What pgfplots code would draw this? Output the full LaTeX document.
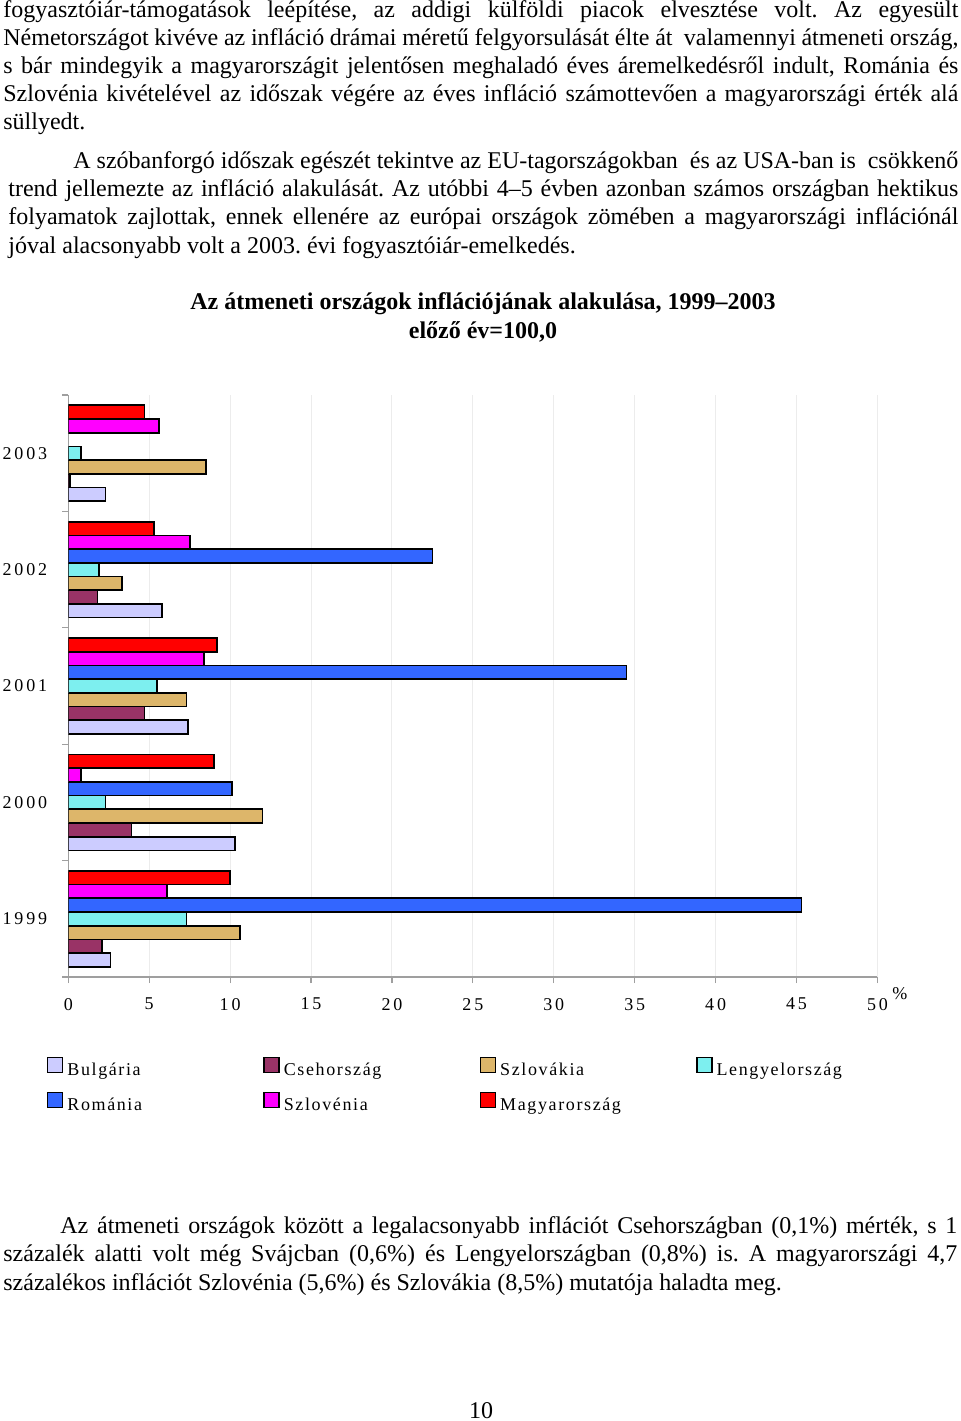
\documentclass[border=0pt]{standalone}
\usepackage{pgfplots}
\pgfplotsset{compat=1.18}
\usepackage{fontspec}
\setmainfont{Liberation Serif}
\newfontfamily\chartfont[LetterSpace=16]{Liberation Serif}
\newfontfamily\legendfont[LetterSpace=9]{Liberation Serif}

\definecolor{bulg}{HTML}{CCCCFF}
\definecolor{cseh}{HTML}{993366}
\definecolor{szlovak}{HTML}{DDB66A}
\definecolor{lengyel}{HTML}{7DEFEF}
\definecolor{roman}{HTML}{3366FF}
\definecolor{szloven}{HTML}{FF00FF}
\definecolor{magyar}{HTML}{FF0000}

\newcommand\bodyfont{\fontsize{12pt}{14.25pt}\selectfont\frenchspacing}
\newcommand\chartsize{\chartfont\fontsize{9pt}{11pt}\selectfont}
\newcommand\legendsize{\legendfont\fontsize{9pt}{11pt}\selectfont}

\pgfplotsset{
  mybar/.style={draw=black, line width=0.85pt, fill=#1,
    legend image code/.code={\draw[##1,/tikz/.cd,line width=0.7pt] (0pt,-0.5pt) rectangle (7.5pt,7pt);}},
}

\begin{document}
\begin{tikzpicture}
\path[use as bounding box] (0,0) rectangle (480pt,-710.5pt);

% page text, 1 px = 0.5pt, y downwards
\begin{scope}[x=0.5pt,y=-0.5pt,every node/.style={inner sep=0pt,anchor=base west,font=\bodyfont}]
\node at (3,17) {\makebox[477.5pt][s]{fogyasztóiár-támogatások leépítése, az addigi külföldi piacok elvesztése volt. Az egyesült}};
\node at (3,45) {\makebox[477.5pt][s]{Németországot kivéve az infláció drámai méretű felgyorsulását élte át\ \ valamennyi átmeneti ország,}};
\node at (3,73) {\makebox[477.5pt][s]{s bár mindegyik a magyarországit jelentősen meghaladó éves áremelkedésről indult, Románia és}};
\node at (3,101) {\makebox[477.5pt][s]{Szlovénia kivételével az időszak végére az éves infláció számottevően a magyarországi érték alá}};
\node at (3,129) {süllyedt.};

\node at (73,168) {\makebox[442.5pt][s]{A szóbanforgó időszak egészét tekintve az EU-tagországokban\ \ és az USA-ban is\ \ csökkenő}};
\node at (8,196) {\makebox[475pt][s]{trend jellemezte az infláció alakulását. Az utóbbi 4–5 évben azonban számos országban hektikus}};
\node at (8,224) {\makebox[475pt][s]{folyamatok zajlottak, ennek ellenére az európai országok zömében a magyarországi inflációnál}};
\node at (8,253) {jóval alacsonyabb volt a 2003. évi fogyasztóiár-emelkedés.};

\node[anchor=base] at (483,309) {\bfseries Az átmeneti országok inflációjának alakulása, 1999–2003};
\node[anchor=base] at (483,338) {\bfseries előző év=100,0};

\node[font=\chartsize] at (892,999) {\%};

\node at (60,1233) {\makebox[448.5pt][s]{Az átmeneti országok között a legalacsonyabb inflációt Csehországban (0,1\%) mérték, s 1}};
\node at (3,1261) {\makebox[477pt][s]{százalék alatti volt még Svájcban (0,6\%) és Lengyelországban (0,8\%) is. A magyarországi 4,7}};
\node at (3,1290) {százalékos inflációt Szlovénia (5,6\%) és Szlovákia (8,5\%) mutatója haladta meg.};

\node[anchor=base] at (481,1418) {10};
\end{scope}

\begin{axis}[
  at={(34.15pt,-488.5pt)}, anchor=south west,
  scale only axis, width=404.6pt, height=291pt,
  xbar, bar width=0.1177,
  xmin=0, xmax=50, ymin=-0.5, ymax=4.5,
  axis x line*=bottom, axis y line*=left,
  axis line style={draw=gray!75, line width=0.6pt},
  tick style={draw=gray!75, line width=0.6pt},
  tick align=outside, major tick length=3pt,
  xtick={0,5,...,50},
  xmajorgrids, major grid style={draw=gray!15, line width=0.5pt},
  ytick={-0.5,0.5,...,4.5}, yticklabels={},
  extra y ticks={0,1,2,3,4},
  extra y tick labels={1999,2000,2001,2002,2003},
  extra y tick style={major tick length=0pt, yticklabel style={xshift=-7pt}},
  ticklabel style={font=\chartsize},
  /pgf/number format/assume math mode=true,
  xticklabel style={yshift=-4pt},
  legend columns=4,
  legend cell align=left,
  legend style={draw=none, fill=none, at={(-0.0263,-0.1374)}, anchor=north west,
    inner sep=0pt, outer sep=0pt, font=\legendsize, row sep=5.5pt,
    nodes={inner sep=0pt, text width=98pt, align=left, text height=6.5pt, text depth=2.5pt},
    /tikz/every odd column/.append style={column sep=2pt}},
]
\addplot[mybar=bulg, bar shift=-0.3531] coordinates {(2.6,0) (10.3,1) (7.4,2) (5.8,3) (2.3,4)};
\addlegendentry{Bulgária}
\addplot[mybar=cseh, bar shift=-0.2354] coordinates {(2.1,0) (3.9,1) (4.7,2) (1.8,3) (0.1,4)};
\addlegendentry{Csehország}
\addplot[mybar=szlovak, bar shift=-0.1177] coordinates {(10.6,0) (12.0,1) (7.3,2) (3.3,3) (8.5,4)};
\addlegendentry{Szlovákia}
\addplot[mybar=lengyel, bar shift=0] coordinates {(7.3,0) (2.3,1) (5.5,2) (1.9,3) (0.8,4)};
\addlegendentry{Lengyelország}
\addplot[mybar=roman, bar shift=0.1177] coordinates {(45.3,0) (10.1,1) (34.5,2) (22.5,3)};
\addlegendentry{Románia}
\addplot[mybar=szloven, bar shift=0.2354] coordinates {(6.1,0) (0.8,1) (8.4,2) (7.5,3) (5.6,4)};
\addlegendentry{Szlovénia}
\addplot[mybar=magyar, bar shift=0.3531] coordinates {(10.0,0) (9.0,1) (9.2,2) (5.3,3) (4.7,4)};
\addlegendentry{Magyarország}
\end{axis}
\end{tikzpicture}
\end{document}
